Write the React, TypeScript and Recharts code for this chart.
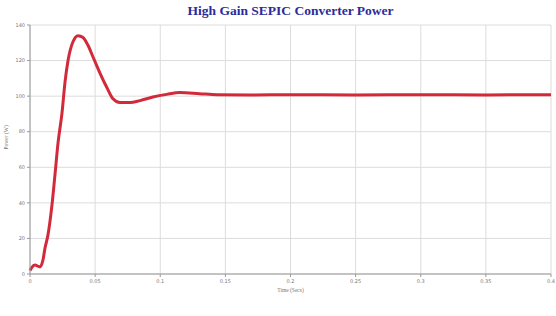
import { LineChart, Line, XAxis, YAxis, CartesianGrid } from "recharts";

const TIME = [
  0, 0.0013, 0.0038, 0.0077, 0.01, 0.0115, 0.0138, 0.0169, 0.0192, 0.0215, 0.0246,
  0.0269, 0.0292, 0.033, 0.0369, 0.0407, 0.0445, 0.0484, 0.0537, 0.0591, 0.0637,
  0.0691, 0.0768, 0.0845, 0.0944, 0.105, 0.115, 0.13, 0.1436, 0.17, 0.2, 0.25, 0.3,
  0.35, 0.4,
];
const POWER = [
  2, 3.6, 5, 4, 8, 14.5, 22, 39, 56, 73.6, 90.7,
  108, 120, 130.6, 134, 133, 128.6, 122, 113, 104.7, 98.5,
  96.4, 96.4, 97.5, 99.5, 101, 102, 101.4, 100.8, 100.7, 100.8, 100.7, 100.8,
  100.7, 100.8,
];
const X_TICKS = [0, 0.05, 0.1, 0.15, 0.2, 0.25, 0.3, 0.35, 0.4];
const Y_TICKS = [0, 20, 40, 60, 80, 100, 120, 140];

const data = TIME.map((t, i) => ({ t, p: POWER[i] }));

const TICK = { fontSize: 5, fill: "#777", fontFamily: "DejaVu Sans" };

export default function App() {
  return (
    <div style={{ position: "absolute", left: 0, top: 0, width: 556, height: 316, background: "#fff" }}>
      <div
        style={{
          position: "absolute",
          top: 3,
          left: 30,
          width: 521,
          textAlign: "center",
          fontFamily: "Liberation Serif",
          fontWeight: 700,
          fontSize: 13.5,
          color: "#2b2b9c",
        }}
      >
        High Gain SEPIC Converter Power
      </div>
      <LineChart width={556} height={316} data={data} margin={{ top: 25, right: 5, bottom: 21, left: 0 }}>
        <CartesianGrid stroke="#dcdcdc" />
        <XAxis
          dataKey="t"
          type="number"
          domain={[0, 0.4]}
          ticks={X_TICKS}
          tick={TICK}
          tickSize={3}
          height={21}
          stroke="#999"
          tickFormatter={(v: number) => String(v)}
          label={{ value: "Time (Secs)", position: "insideBottom", offset: 3, fontSize: 5.5, fill: "#777" }}
        />
        <YAxis
          type="number"
          domain={[0, 140]}
          ticks={Y_TICKS}
          tick={TICK}
          tickSize={3}
          width={30}
          stroke="#999"
          label={{ value: "Power (W)", angle: -90, position: "insideLeft", offset: 6, fontSize: 5.5, fill: "#777" }}
        />
        <Line
          dataKey="p"
          type="monotone"
          stroke="#d22a3a"
          strokeWidth={3}
          dot={false}
          isAnimationActive={false}
        />
      </LineChart>
    </div>
  );
}
